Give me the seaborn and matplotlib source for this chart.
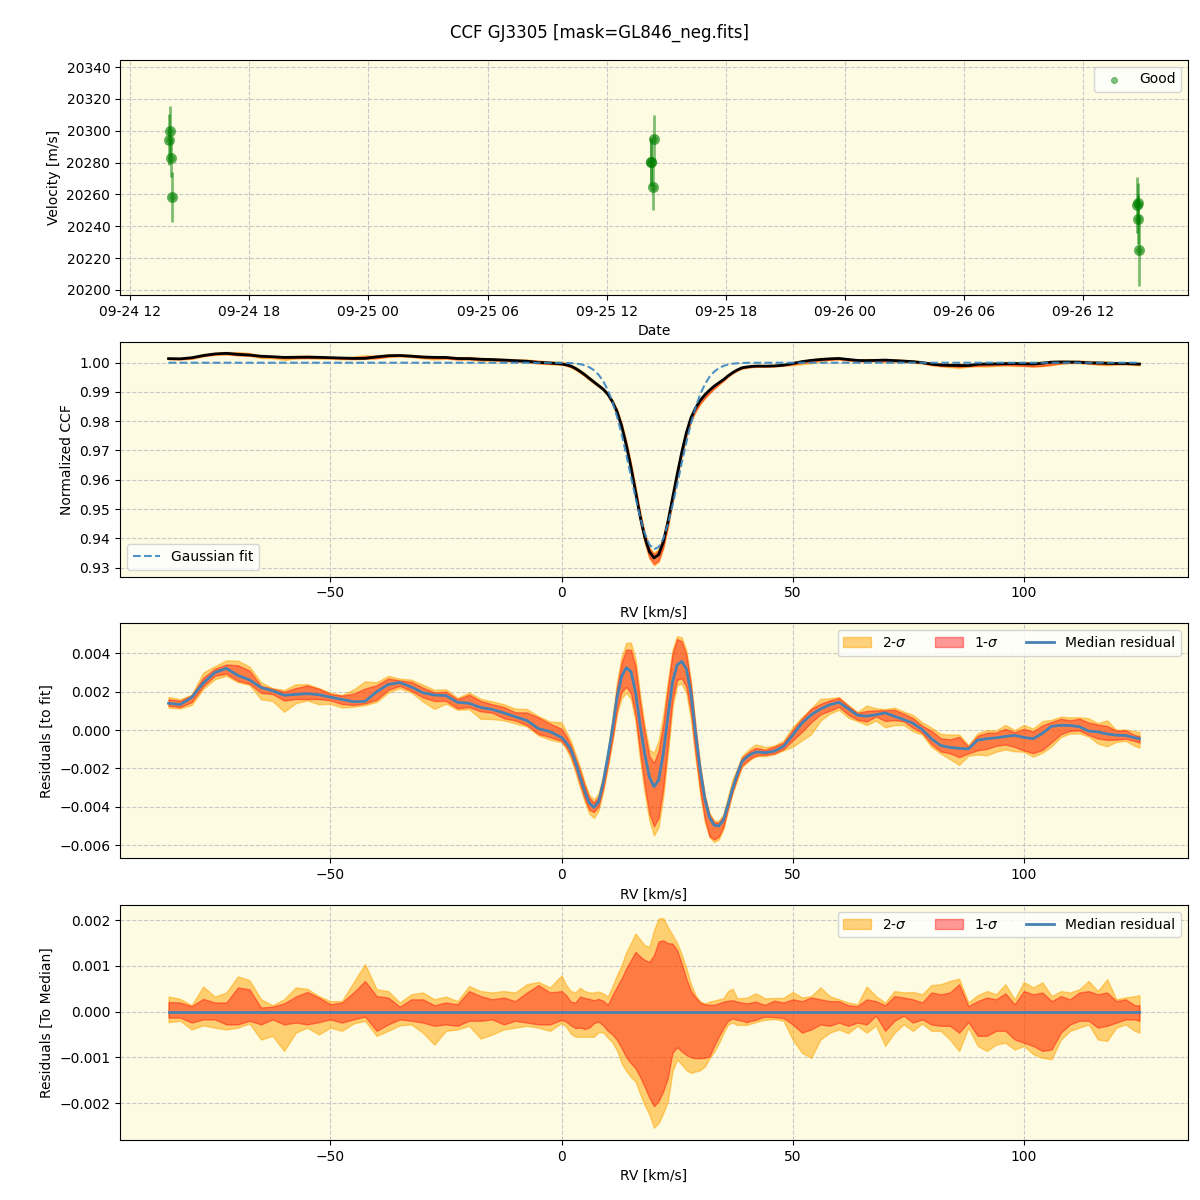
import numpy as np
import pandas as pd
import matplotlib
matplotlib.use("Agg")
import matplotlib.pyplot as plt
import matplotlib.dates as mdates
from matplotlib.patches import Patch
from matplotlib.lines import Line2D
import seaborn as sns

TITLE = "CCF GJ3305 [mask=GL846_neg.fits]"

# ---------------- Panel 1: radial velocities ----------------
obs_times = [
    "2023-09-24 13:59", "2023-09-24 13:56", "2023-09-24 14:03", "2023-09-24 14:06",
    "2023-09-25 14:22", "2023-09-25 14:13", "2023-09-25 14:14", "2023-09-25 14:19",
    "2023-09-26 14:43", "2023-09-26 14:45", "2023-09-26 14:47", "2023-09-26 14:50",
]
obs_rv = [20299.6, 20294.4, 20283.1, 20258.3,
          20295.0, 20280.2, 20280.6, 20264.4,
          20253.3, 20254.4, 20244.8, 20224.8]
obs_err = [15.6, 16.0, 12.0, 15.7,
           14.6, 15.0, 15.0, 14.0,
           17.5, 13.0, 15.7, 22.5]

# ---------------- RV grid ----------------
rv_left = np.arange(-85.0, 0.0, 2.5)     # -85 ... -2.5
rv_core = np.arange(0.0, 45.0, 1.0)      # 0 ... 44
rv_right = np.append(np.arange(46.0, 125.0, 2.0), 125.0)  # 46 ... 124, 125

# Median residual to Gaussian fit
median_left = [0.00140, 0.00133, 0.00170, 0.00245, 0.00300, 0.00322, 0.00285, 0.00262, 0.00222, 0.00205,
               0.00182, 0.00186, 0.00190, 0.00185, 0.00172, 0.00160, 0.00148, 0.00150, 0.00200, 0.00238,
               0.00248, 0.00225, 0.00195, 0.00183, 0.00180, 0.00145, 0.00140, 0.00118, 0.00108, 0.00090,
               0.00070, 0.00050, 0.00008, -0.00008]
median_core = [-0.00038, -0.00065, -0.00100, -0.00165, -0.00245, -0.00318, -0.00380, -0.00403, -0.00375, -0.00275,
               -0.00140, 0.00005, 0.00170, 0.00280, 0.00325, 0.00306, 0.00200, 0.00025, -0.00125, -0.00245,
               -0.00295, -0.00260, -0.00125, 0.00070, 0.00250, 0.00340, 0.00358, 0.00320, 0.00190, -0.00020,
               -0.00210, -0.00360, -0.00455, -0.00495, -0.00500, -0.00470, -0.00390, -0.00305, -0.00230, -0.00165,
               -0.00142, -0.00125, -0.00115, -0.00115, -0.00118]
median_right = [-0.00110, -0.00085, -0.00026, 0.00037, 0.00080, 0.00110, 0.00132, 0.00145, 0.00112, 0.00078,
                0.00073, 0.00080, 0.00090, 0.00072, 0.00055, 0.00036, 0.00003, -0.00045, -0.00080, -0.00090,
                -0.00095, -0.00098, -0.00052, -0.00045, -0.00040, -0.00033, -0.00027, -0.00038, -0.00045, -0.00017,
                0.00020, 0.00025, 0.00024, 0.00018, -0.00005, -0.00009, -0.00020, -0.00026, -0.00028, -0.00040,
                -0.00045]

# Spread relative to the median: upper 2-sigma, upper 1-sigma, lower 1-sigma, lower 2-sigma
up2_left = [0.00033, 0.00028, 0.00014, 0.00055, 0.00033, 0.00042, 0.00077, 0.00069, 0.00027, 0.00014,
            0.00027, 0.00053, 0.00050, 0.00034, 0.00023, 0.00023, 0.00064, 0.00104, 0.00049, 0.00045,
            0.00020, 0.00038, 0.00042, 0.00027, 0.00033, 0.00023, 0.00056, 0.00045, 0.00042, 0.00045,
            0.00042, 0.00060, 0.00065, 0.00053]
up1_left = [0.00021, 0.00020, 0.00012, 0.00028, 0.00020, 0.00020, 0.00053, 0.00049, 0.00009, 0.00011,
            0.00018, 0.00033, 0.00043, 0.00031, 0.00016, 0.00020, 0.00042, 0.00067, 0.00034, 0.00031,
            0.00011, 0.00027, 0.00027, 0.00014, 0.00020, 0.00016, 0.00045, 0.00034, 0.00027, 0.00031,
            0.00023, 0.00042, 0.00058, 0.00042]
lo1_left = [-0.00013, -0.00013, -0.00024, -0.00017, -0.00017, -0.00028, -0.00028, -0.00020, -0.00028, -0.00017,
            -0.00028, -0.00024, -0.00028, -0.00023, -0.00017, -0.00024, -0.00017, -0.00011, -0.00042, -0.00028,
            -0.00017, -0.00020, -0.00024, -0.00031, -0.00028, -0.00031, -0.00020, -0.00020, -0.00017, -0.00028,
            -0.00020, -0.00024, -0.00028, -0.00028]
lo2_left = [-0.00023, -0.00020, -0.00039, -0.00030, -0.00035, -0.00039, -0.00035, -0.00026, -0.00061, -0.00053,
            -0.00086, -0.00046, -0.00035, -0.00050, -0.00035, -0.00042, -0.00026, -0.00020, -0.00053, -0.00042,
            -0.00030, -0.00028, -0.00046, -0.00072, -0.00042, -0.00039, -0.00031, -0.00059, -0.00050, -0.00039,
            -0.00035, -0.00031, -0.00035, -0.00042]

up2_core = [0.00079, 0.00058, 0.00045, 0.00042, 0.00052, 0.00045, 0.00042, 0.00042, 0.00044, 0.00040,
            0.00033, 0.00055, 0.00080, 0.00102, 0.00130, 0.00150, 0.00171, 0.00158, 0.00145, 0.00142,
            0.00178, 0.00204, 0.00205, 0.00185, 0.00168, 0.00150, 0.00125, 0.00095, 0.00060, 0.00036,
            0.00022, 0.00018, 0.00022, 0.00024, 0.00027, 0.00029, 0.00045, 0.00050, 0.00029, 0.00030,
            0.00030, 0.00035, 0.00040, 0.00035, 0.00029]
up1_core = [0.00045, 0.00036, 0.00022, 0.00020, 0.00033, 0.00030, 0.00028, 0.00025, 0.00028, 0.00024,
            0.00015, 0.00036, 0.00055, 0.00073, 0.00095, 0.00113, 0.00131, 0.00121, 0.00113, 0.00109,
            0.00124, 0.00154, 0.00156, 0.00150, 0.00149, 0.00135, 0.00105, 0.00072, 0.00045, 0.00031,
            0.00020, 0.00016, 0.00015, 0.00015, 0.00018, 0.00022, 0.00024, 0.00025, 0.00022, 0.00020,
            0.00018, 0.00020, 0.00022, 0.00018, 0.00015]
lo1_core = [-0.00018, -0.00022, -0.00030, -0.00036, -0.00035, -0.00038, -0.00035, -0.00025, -0.00022, -0.00030,
            -0.00042, -0.00050, -0.00062, -0.00080, -0.00100, -0.00113, -0.00124, -0.00143, -0.00165, -0.00189,
            -0.00207, -0.00196, -0.00174, -0.00145, -0.00090, -0.00078, -0.00087, -0.00095, -0.00100, -0.00102,
            -0.00102, -0.00101, -0.00098, -0.00075, -0.00055, -0.00036, -0.00020, -0.00015, -0.00018, -0.00020,
            -0.00023, -0.00020, -0.00018, -0.00014, -0.00011]
lo2_core = [-0.00025, -0.00033, -0.00048, -0.00055, -0.00055, -0.00055, -0.00055, -0.00055, -0.00045, -0.00045,
            -0.00057, -0.00067, -0.00085, -0.00113, -0.00130, -0.00143, -0.00153, -0.00180, -0.00205, -0.00225,
            -0.00254, -0.00244, -0.00222, -0.00196, -0.00130, -0.00105, -0.00116, -0.00128, -0.00134, -0.00131,
            -0.00128, -0.00120, -0.00102, -0.00088, -0.00070, -0.00047, -0.00028, -0.00024, -0.00029, -0.00029,
            -0.00029, -0.00026, -0.00023, -0.00020, -0.00018]

up2_right = [0.00030, 0.00030, 0.00043, 0.00031, 0.00034, 0.00053, 0.00034, 0.00027, 0.00020, 0.00016,
             0.00055, 0.00034, 0.00020, 0.00045, 0.00042, 0.00043, 0.00038, 0.00058, 0.00060, 0.00067,
             0.00072, 0.00020, 0.00036, 0.00045, 0.00038, 0.00060, 0.00027, 0.00065, 0.00053, 0.00064,
             0.00034, 0.00045, 0.00042, 0.00049, 0.00067, 0.00045, 0.00071, 0.00027, 0.00031, 0.00034,
             0.00036]
up1_right = [0.00024, 0.00020, 0.00027, 0.00023, 0.00031, 0.00027, 0.00023, 0.00023, 0.00014, 0.00012,
             0.00027, 0.00023, 0.00014, 0.00034, 0.00031, 0.00027, 0.00020, 0.00042, 0.00038, 0.00042,
             0.00060, 0.00012, 0.00023, 0.00031, 0.00027, 0.00040, 0.00016, 0.00045, 0.00038, 0.00042,
             0.00023, 0.00034, 0.00027, 0.00042, 0.00045, 0.00038, 0.00042, 0.00023, 0.00027, 0.00014,
             0.00014]
lo1_right = [-0.00012, -0.00014, -0.00028, -0.00046, -0.00039, -0.00028, -0.00031, -0.00024, -0.00031, -0.00024,
             -0.00028, -0.00009, -0.00042, -0.00020, -0.00009, -0.00024, -0.00017, -0.00028, -0.00031, -0.00031,
             -0.00046, -0.00023, -0.00053, -0.00053, -0.00042, -0.00042, -0.00061, -0.00068, -0.00075, -0.00086,
             -0.00083, -0.00046, -0.00028, -0.00020, -0.00020, -0.00035, -0.00031, -0.00024, -0.00017, -0.00017,
             -0.00020]
lo2_right = [-0.00016, -0.00020, -0.00061, -0.00090, -0.00101, -0.00061, -0.00046, -0.00039, -0.00047, -0.00031,
             -0.00046, -0.00030, -0.00075, -0.00046, -0.00028, -0.00042, -0.00026, -0.00042, -0.00042, -0.00061,
             -0.00086, -0.00035, -0.00075, -0.00086, -0.00072, -0.00068, -0.00083, -0.00075, -0.00093, -0.00101,
             -0.00104, -0.00061, -0.00042, -0.00035, -0.00028, -0.00061, -0.00064, -0.00035, -0.00028, -0.00042,
             -0.00046]

# Gaussian fit parameters
FIT_CONTINUUM = 1.0
FIT_DEPTH = 0.0638
FIT_CENTER = 20.2
FIT_SIGMA = 5.2

# ---------------- assemble ----------------
rv = np.concatenate([rv_left, rv_core, rv_right])
med = np.concatenate([median_left, median_core, median_right])
up2 = np.concatenate([up2_left, up2_core, up2_right])
up1 = np.concatenate([up1_left, up1_core, up1_right])
lo1 = np.concatenate([lo1_left, lo1_core, lo1_right])
lo2 = np.concatenate([lo2_left, lo2_core, lo2_right])

fit = FIT_CONTINUUM - FIT_DEPTH * np.exp(-0.5 * ((rv - FIT_CENTER) / FIT_SIGMA) ** 2)
ccf = fit + med

BG = "#FDFBE2"
GRID_KW = dict(linestyle="--", color="#c8c8c8", linewidth=0.8)
C_2SIG = "orange"
C_1SIG = "red"
C_MED = "#4682b4"

fig, axes = plt.subplots(4, 1, figsize=(12, 12), dpi=100)
fig.subplots_adjust(left=0.10, right=0.99, top=0.95, bottom=0.05, hspace=0.2)
fig.suptitle(TITLE, fontsize=12, y=0.98)

for ax in axes:
    ax.set_facecolor(BG)
    ax.set_axisbelow(True)
    ax.grid(True, **GRID_KW)

# Panel 1
ax = axes[0]
df_obs = pd.DataFrame({"time": pd.to_datetime(obs_times), "rv": obs_rv, "err": obs_err})
ax.errorbar(df_obs["time"], df_obs["rv"], yerr=df_obs["err"], fmt="o", color="green",
            ecolor="green", alpha=0.5, markersize=7, elinewidth=2, capsize=0)
sns.scatterplot(data=df_obs, x="time", y="rv", ax=ax, color="green", alpha=0.5, s=20,
                edgecolor="green", linewidth=0.5, label="Good")
ax.set_ylim(20196.9, 20344.4)
ax.set_yticks(np.arange(20200, 20341, 20))
ax.xaxis.set_major_locator(mdates.HourLocator(byhour=[0, 6, 12, 18]))
ax.xaxis.set_major_formatter(mdates.DateFormatter("%m-%d %H"))
ax.set_xlabel("Date")
ax.set_ylabel("Velocity [m/s]")
ax.legend(loc="upper right")

# Panel 2
ax = axes[1]
ax.fill_between(rv, ccf + lo2, ccf + up2, color=C_2SIG, alpha=0.5, lw=1)
ax.fill_between(rv, ccf + lo1, ccf + up1, color=C_1SIG, alpha=0.4, lw=1)
sns.lineplot(x=rv, y=ccf, ax=ax, color="black", linewidth=2)
sns.lineplot(x=rv, y=fit, ax=ax, color="#3a86c0", linewidth=1.5, linestyle="--",
             alpha=0.9, label="Gaussian fit")
ax.set_ylim(0.92693, 1.00717)
ax.set_yticks([0.93, 0.94, 0.95, 0.96, 0.97, 0.98, 0.99, 1.00])
ax.set_xlabel("RV [km/s]")
ax.set_ylabel("Normalized CCF")
ax.legend(loc="lower left")

# Panel 3
ax = axes[2]
ax.fill_between(rv, med + lo2, med + up2, color=C_2SIG, alpha=0.5, lw=1)
ax.fill_between(rv, med + lo1, med + up1, color=C_1SIG, alpha=0.4, lw=1)
sns.lineplot(x=rv, y=med, ax=ax, color=C_MED, linewidth=2)
ax.set_ylim(-0.00668, 0.00556)
ax.set_xlabel("RV [km/s]")
ax.set_ylabel("Residuals [to fit]")

# Panel 4
ax = axes[3]
ax.fill_between(rv, lo2, up2, color=C_2SIG, alpha=0.5, lw=1)
ax.fill_between(rv, lo1, up1, color=C_1SIG, alpha=0.4, lw=1)
sns.lineplot(x=rv, y=np.zeros_like(rv), ax=ax, color=C_MED, linewidth=2)
ax.set_ylim(-0.00281, 0.00233)
ax.set_xlabel("RV [km/s]")
ax.set_ylabel("Residuals [To Median]")

handles = [Patch(facecolor=C_2SIG, edgecolor=C_2SIG, alpha=0.5),
           Patch(facecolor=C_1SIG, edgecolor=C_1SIG, alpha=0.4),
           Line2D([0], [0], color=C_MED, linewidth=2)]
labels = [r"2-$\sigma$", r"1-$\sigma$", "Median residual"]
for ax in axes[2:]:
    ax.legend(handles, labels, loc="upper right", ncol=3)

fig.savefig("out.png", dpi=100)
